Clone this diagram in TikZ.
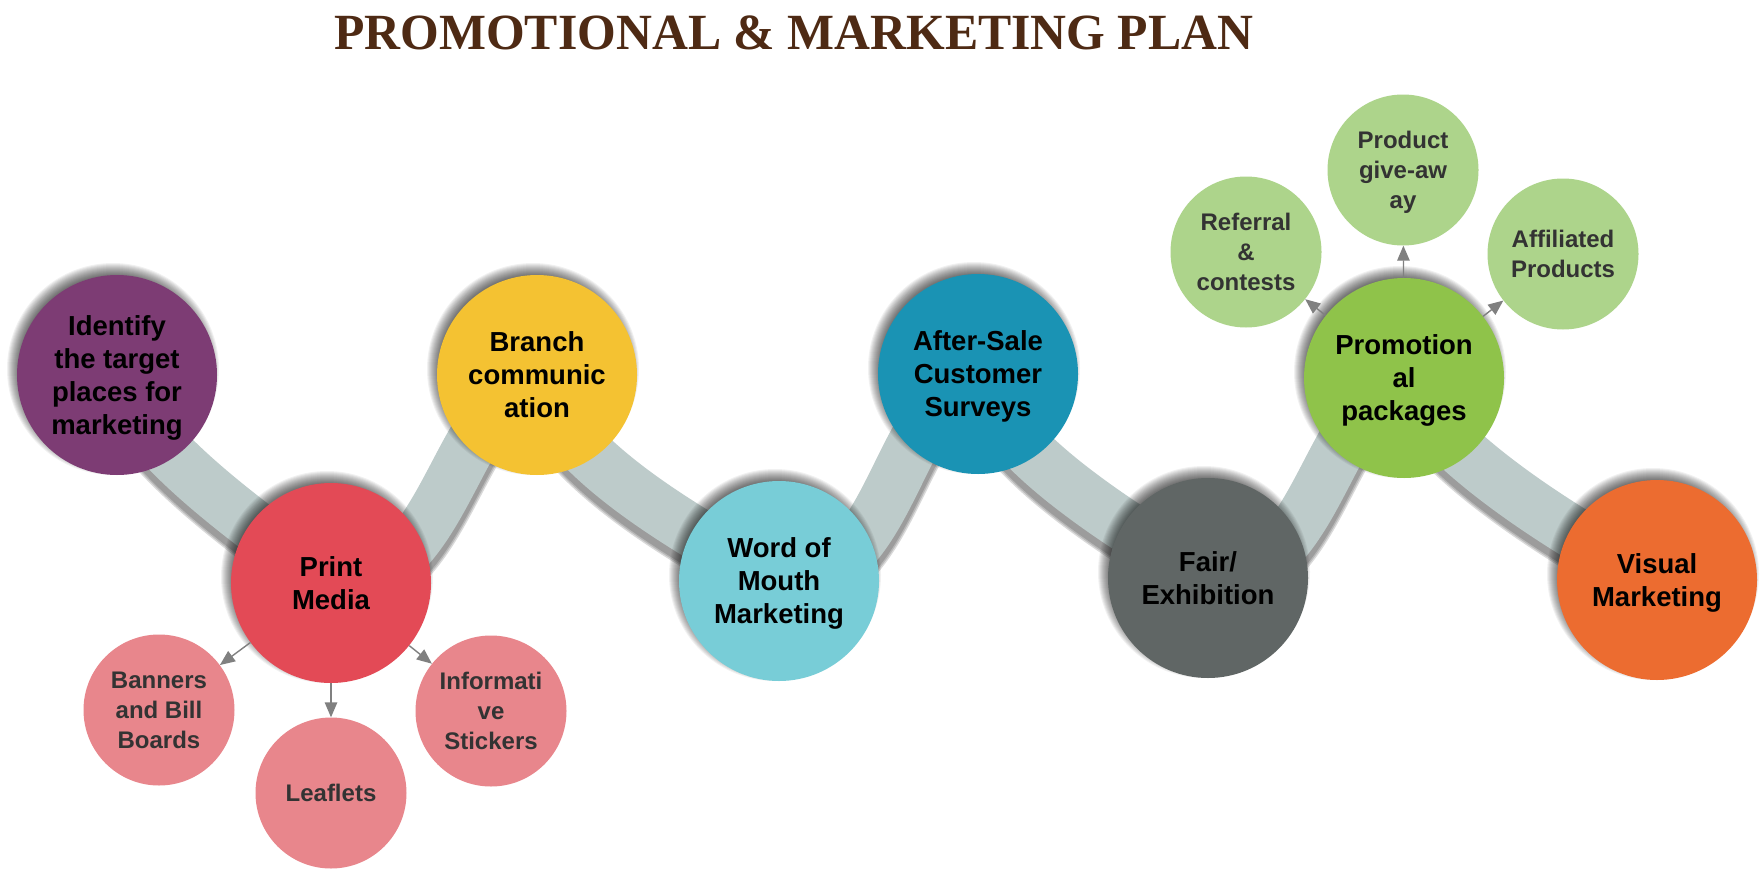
\documentclass[tikz,border=0pt]{standalone}
\usepackage{fontspec}
\setmainfont{Liberation Sans}
\newfontfamily\titlefont{Liberation Serif}
\usepackage{graphicx}
\usetikzlibrary{arrows.meta,calc}
\definecolor{cPurple}{HTML}{7D3C74}
\definecolor{cRed}{HTML}{E34A56}
\definecolor{cYellow}{HTML}{F4C232}
\definecolor{cLightBlue}{HTML}{78CDD7}
\definecolor{cTeal}{HTML}{1A93B4}
\definecolor{cGray}{HTML}{606665}
\definecolor{cGreen}{HTML}{8FC34A}
\definecolor{cOrange}{HTML}{EC6C30}
\definecolor{cPink}{HTML}{E8868C}
\definecolor{cLightGreen}{HTML}{ADD48B}
\definecolor{bandc}{HTML}{BDCBCA}
\definecolor{arrowc}{HTML}{808080}
\definecolor{subtext}{HTML}{333333}
\definecolor{titlec}{HTML}{4E2A14}
\pgfdeclarelayer{bglayer}
\pgfdeclarelayer{bandshadowlayer}
\pgfdeclarelayer{bandlayer}
\pgfdeclarelayer{circshadowlayer}
\pgfsetlayers{bglayer,bandshadowlayer,bandlayer,circshadowlayer,main}
\tikzset{
  maincirc/.style={circle, minimum size=200pt, inner sep=0pt, align=center,
    text depth=0pt, font=\bfseries\fontsize{27.5}{33}\selectfont, text=black},
  subcirc/.style={circle, minimum size=151pt, inner sep=0pt, align=center,
    text depth=0pt, font=\bfseries\fontsize{24}{30}\selectfont, text=subtext},
  bandline/.style={draw=bandc, line width=52pt},
  bshadow/.style={draw=black, opacity=0.15},
  linkarrow/.style={draw=arrowc, line width=1.4pt, -{Triangle[length=15pt,width=12.5pt]}}
}
\newcommand\drawband[4]{%
  \begin{pgfonlayer}{bandshadowlayer}
    \foreach \w in {59,56,53}{\draw[bshadow, line width=\w pt] ($(#1.center)+(0,8)$) .. controls +#3 and +#4 .. ($(#2.center)+(0,8)$);}
  \end{pgfonlayer}
  \begin{pgfonlayer}{bandlayer}
    \draw[bandline] (#1.center) .. controls +#3 and +#4 .. (#2.center);
  \end{pgfonlayer}}
\newcommand\circshadow[1]{%
  \begin{pgfonlayer}{circshadowlayer}
    \foreach \k in {0,...,12}{\fill[black, opacity=0.055] ($(#1.center)+(-4,-6)$) circle[radius={(106-\k)*1pt}];}
  \end{pgfonlayer}}
\begin{document}
\begin{tikzpicture}[x=1pt,y=-1pt]
\useasboundingbox (0,0) rectangle (1763,875);
\begin{pgfonlayer}{bglayer}
\fill[white] (0,0) rectangle (1763,875);
\end{pgfonlayer}

\node[anchor=base west, inner sep=0pt, text=titlec] (title) at (334,50)
  {\resizebox{919pt}{33.7pt}{\titlefont\bfseries PROMOTIONAL \& MARKETING PLAN}};

% main circles
\node[maincirc, fill=cPurple]    (n1) at (117,375)  {Identify\\the target\\places for\\marketing};
\node[maincirc, fill=cRed]       (n2) at (331,583)  {Print\\Media};
\node[maincirc, fill=cYellow]    (n3) at (537,375)  {Branch\\communic\\ation};
\node[maincirc, fill=cLightBlue] (n4) at (779,581)  {Word of\\Mouth\\Marketing};
\node[maincirc, fill=cTeal]      (n5) at (978,374)  {After-Sale\\Customer\\Surveys};
\node[maincirc, fill=cGray]      (n6) at (1208,578) {Fair/\\Exhibition};
\node[maincirc, fill=cGreen]     (n7) at (1404,378) {Promotion\\al\\packages};
\node[maincirc, fill=cOrange]    (n8) at (1657,580) {Visual\\Marketing};

% sub circles
\node[subcirc, fill=cPink] (b1) at (159,710) {Banners\\and Bill\\Boards};
\node[subcirc, fill=cPink] (b2) at (331,793) {Leaflets};
\node[subcirc, fill=cPink] (b3) at (491,711) {Informati\\ve\\Stickers};
\node[subcirc, fill=cLightGreen] (g1) at (1246,252) {Referral\\\&\\contests};
\node[subcirc, fill=cLightGreen] (g2) at (1403,170) {Product\\give-aw\\ay};
\node[subcirc, fill=cLightGreen] (g3) at (1563,254) {Affiliated\\Products};

% bands
\drawband{n1}{n2}{(20,70)}{(-81,-60)}
\drawband{n2}{n3}{(115,5)}{(-85,30)}
\drawband{n3}{n4}{(20,80)}{(-100,-55)}
\drawband{n4}{n5}{(115,5)}{(-85,30)}
\drawband{n5}{n6}{(20,75)}{(-95,-58)}
\drawband{n6}{n7}{(110,5)}{(-80,30)}
\drawband{n7}{n8}{(25,65)}{(-105,-55)}

% circle shadows
\circshadow{n1}\circshadow{n2}\circshadow{n3}\circshadow{n4}
\circshadow{n5}\circshadow{n6}\circshadow{n7}\circshadow{n8}

% arrows
\draw[linkarrow] (n2) -- (b1);
\draw[linkarrow] (n2) -- (b2);
\draw[linkarrow] (n2) -- (b3);
\draw[linkarrow] (n7) -- (g1);
\draw[linkarrow] (n7) -- (g2);
\draw[linkarrow] (n7) -- (g3);
\end{tikzpicture}
\end{document}
